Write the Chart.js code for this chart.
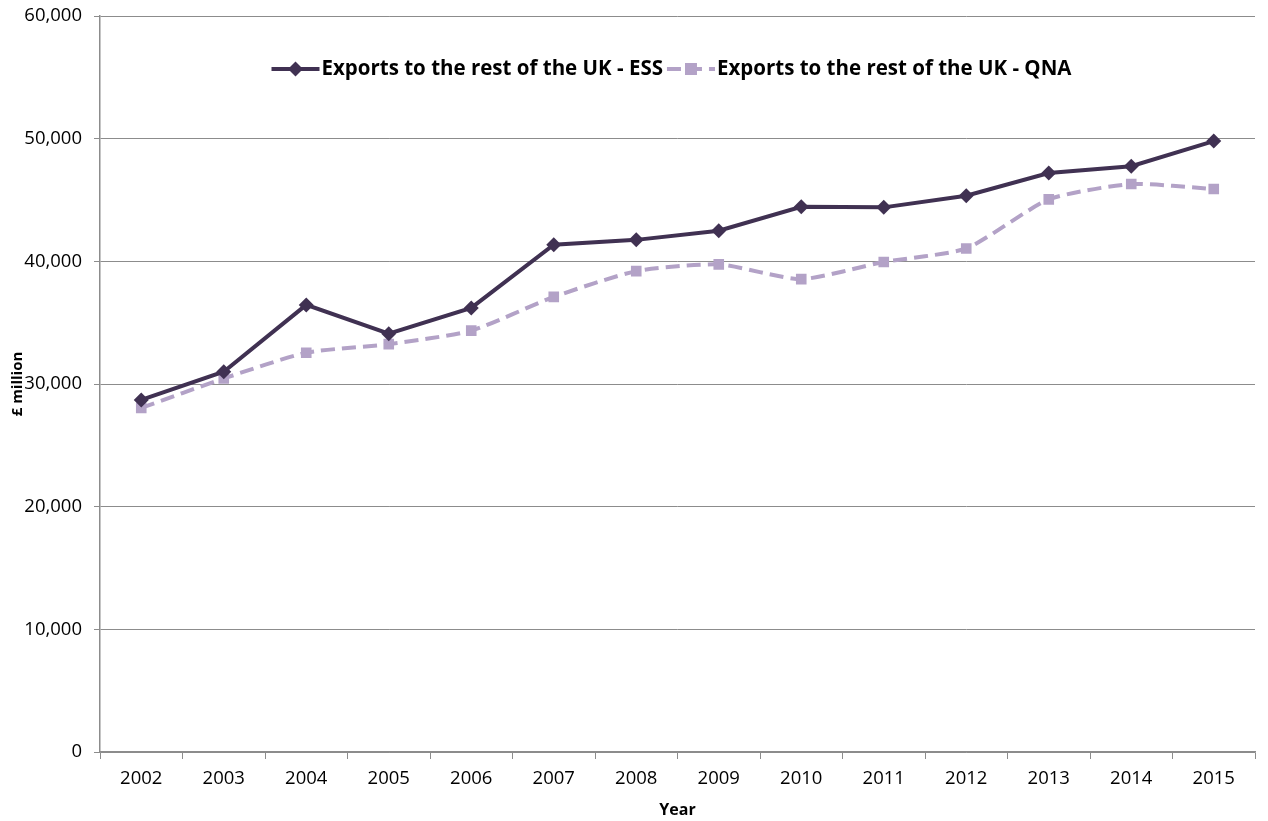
<!DOCTYPE html>
<html>
<head>
<meta charset="utf-8">
<script src="https://cdn.jsdelivr.net/npm/chart.js@4.4.1/dist/chart.umd.min.js"></script>
<style>
  html, body { margin: 0; padding: 0; background: #fff; }
  #wrap { width: 1268px; height: 821px; position: relative; }
</style>
</head>
<body>
<div id="wrap"><canvas id="exports-chart"></canvas></div>
<script>
// Exports to the rest of the UK, £ million
const years = ['2002', '2003', '2004', '2005', '2006', '2007', '2008', '2009', '2010', '2011', '2012', '2013', '2014', '2015'];
const essValues = [28700, 31000, 36450, 34100, 36200, 41350, 41750, 42500, 44450, 44400, 45350, 47200, 47750, 49800];
const qnaValues = [28050, 30450, 32550, 33250, 34350, 37100, 39200, 39750, 38550, 39950, 41050, 45050, 46300, 45900];
const yTicks = [0, 10000, 20000, 30000, 40000, 50000, 60000];

const ESS_COLOR = '#403152';
const QNA_COLOR = '#B3A2C7';
const AXIS_GREY = '#8C8C8C';
const FONT = "'Open Sans', 'Noto Sans', sans-serif";

// legend drawn inside the plot area: short line with the marker in the middle, then label
const insideLegend = {
    id: 'insideLegend',
    afterDraw(chart) {
        const ctx = chart.ctx;
        const area = chart.chartArea;
        const sets = chart.data.datasets;
        const lineLen = 48, gap = 2, spacing = 4;
        ctx.save();
        ctx.font = `bold 20.5px ${FONT}`;
        ctx.textBaseline = 'middle';
        let total = 0;
        sets.forEach((ds, i) => {
            total += lineLen + gap + ctx.measureText(ds.label).width;
            if (i < sets.length - 1) total += spacing;
        });
        let x = (area.left + area.right) / 2 - total / 2 - 6;
        const y = area.top + 53;
        sets.forEach(ds => {
            ctx.strokeStyle = ds.borderColor;
            ctx.lineWidth = ds.borderWidth;
            ctx.setLineDash(ds.borderDash || []);
            ctx.beginPath();
            ctx.moveTo(x, y);
            ctx.lineTo(x + lineLen, y);
            ctx.stroke();
            ctx.setLineDash([]);
            ctx.fillStyle = ds.pointBackgroundColor;
            const cx = x + lineLen / 2;
            const r = ds.pointRadius;
            ctx.beginPath();
            if (ds.pointStyle === 'rectRot') {
                ctx.moveTo(cx, y - r); ctx.lineTo(cx + r, y); ctx.lineTo(cx, y + r); ctx.lineTo(cx - r, y);
                ctx.closePath();
            } else {
                const s = r * 0.8;
                ctx.rect(cx - s, y - s, s * 2, s * 2);
            }
            ctx.fill();
            x += lineLen + gap;
            ctx.fillStyle = '#000';
            ctx.fillText(ds.label, x, y);
            x += ctx.measureText(ds.label).width + spacing;
        });
        ctx.restore();
    }
};

new Chart(document.getElementById('exports-chart'), {
    type: 'line',
    data: {
        labels: years,
        datasets: [{
            label: 'Exports to the rest of the UK - ESS',
            data: essValues,
            borderColor: ESS_COLOR,
            backgroundColor: ESS_COLOR,
            pointBackgroundColor: ESS_COLOR,
            pointBorderColor: ESS_COLOR,
            borderWidth: 4,
            pointStyle: 'rectRot',
            pointRadius: 7.5,
            pointBorderWidth: 0,
            tension: 0
        }, {
            label: 'Exports to the rest of the UK - QNA',
            data: qnaValues,
            borderColor: QNA_COLOR,
            backgroundColor: QNA_COLOR,
            pointBackgroundColor: QNA_COLOR,
            pointBorderColor: QNA_COLOR,
            borderWidth: 4,
            borderDash: [14, 7],
            pointStyle: 'rect',
            pointRadius: 7.5,
            pointBorderWidth: 0,
            tension: 0.2
        }]
    },
    options: {
        responsive: true,
        maintainAspectRatio: false,
        animation: false,
        layout: { padding: { top: 16, right: 13, left: 0, bottom: 0 } },
        scales: {
            x: {
                offset: true,
                grid: {
                    offset: true,
                    drawOnChartArea: false,
                    drawTicks: true,
                    tickLength: 7,
                    color: AXIS_GREY
                },
                border: { color: AXIS_GREY, width: 1.5 },
                ticks: { color: '#000', font: { family: FONT, size: 18.5 }, padding: 9, maxRotation: 0 },
                title: {
                    display: true,
                    text: 'Year',
                    color: '#000',
                    font: { family: FONT, size: 16, weight: 'bold' },
                    padding: { top: 0, bottom: 1 }
                },
                afterFit: (scale) => { scale.height = 69; }
            },
            y: {
                min: 0,
                max: 60000,
                afterBuildTicks: (scale) => { scale.ticks = yTicks.map(v => ({ value: v })); },
                grid: { color: AXIS_GREY, lineWidth: 1, tickLength: 6 },
                border: { color: AXIS_GREY, width: 1.5 },
                ticks: {
                    color: '#000',
                    font: { family: FONT, size: 18.5 },
                    padding: 12,
                    callback: (v) => v.toLocaleString('en-GB')
                },
                title: {
                    display: true,
                    text: '£ million',
                    color: '#000',
                    font: { family: FONT, size: 15, weight: 'bold' },
                    padding: { top: 9, bottom: 0 }
                },
                afterFit: (scale) => {
                    scale.width = 100;
                    scale.paddingTop = 0;
                    scale.paddingBottom = 0;
                }
            }
        },
        plugins: {
            legend: { display: false },
            tooltip: { enabled: false }
        }
    },
    plugins: [insideLegend]
});
</script>
</body>
</html>
